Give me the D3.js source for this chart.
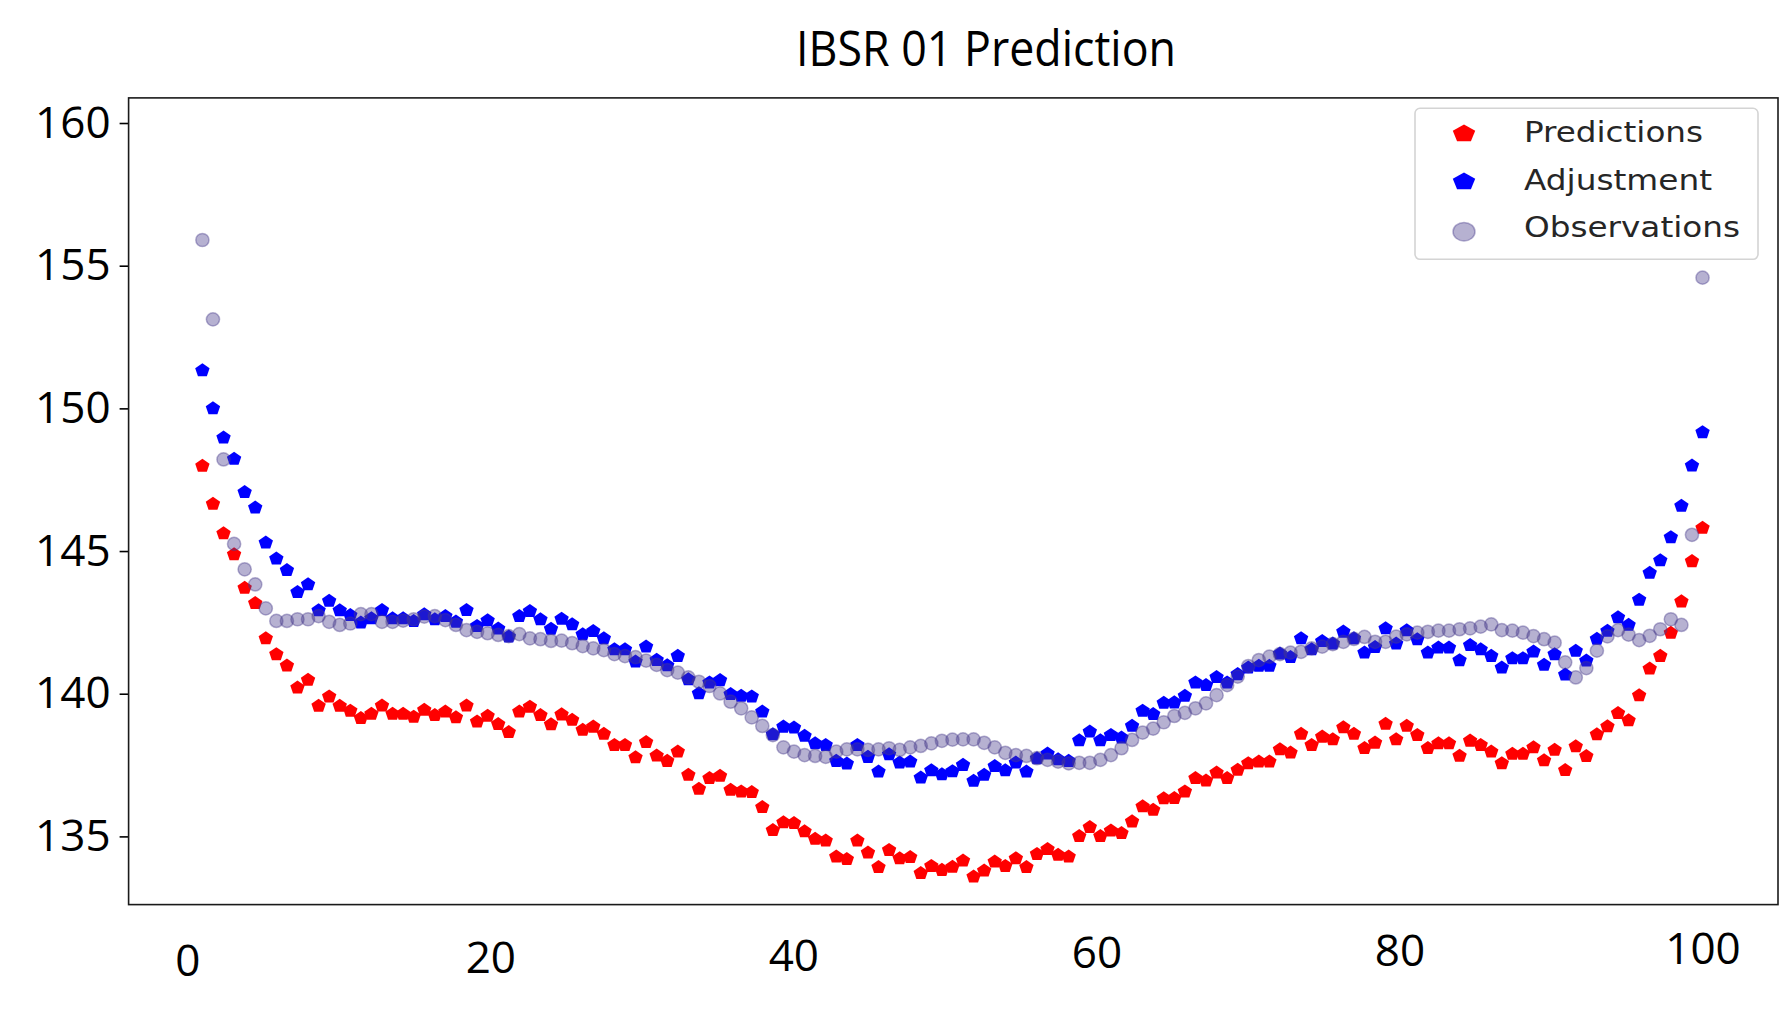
<!DOCTYPE html>
<html><head><meta charset="utf-8">
<script src="https://cdn.jsdelivr.net/npm/d3@7"></script>
<style>body{margin:0;background:#fff}svg{display:block}</style>
</head><body>
<svg id="chart" width="1784" height="1023"></svg>
<script>
const chartTitle = "IBSR 01 Prediction";
const seriesNames = ["Predictions", "Adjustment", "Observations"];
const xTicks = [0, 20, 40, 60, 80, 100];
const yTicks = [135, 140, 145, 150, 155, 160];
const xFirst = 1, xLast = 100;

const predictions = [
147.98,146.65,145.62,144.88,143.71,143.17,141.94,141.38,140.98,140.21,
140.48,139.57,139.90,139.57,139.40,139.14,139.29,139.58,139.29,139.29,
139.19,139.43,139.25,139.37,139.17,139.58,139.02,139.22,138.93,138.65,
139.37,139.54,139.25,138.92,139.27,139.08,138.73,138.84,138.59,138.20,
138.20,137.77,138.30,137.83,137.64,137.97,137.15,136.66,137.04,137.12,
136.63,136.57,136.55,136.02,135.22,135.49,135.46,135.17,134.91,134.85,
134.29,134.20,134.85,134.43,133.92,134.52,134.23,134.27,133.71,133.96,
133.82,133.93,134.15,133.59,133.80,134.11,133.96,134.23,133.92,134.38,
134.55,134.35,134.29,135.01,135.32,135.01,135.20,135.11,135.52,136.05,
135.93,136.33,136.34,136.57,137.04,136.95,137.23,137.04,137.33,137.56,
137.62,137.62,138.05,137.93,138.59,138.20,138.49,138.40,138.82,138.59,
138.09,138.28,138.94,138.40,138.87,138.55,138.09,138.26,138.26,137.82,
138.35,138.20,137.97,137.56,137.89,137.89,138.12,137.66,138.03,137.32,
138.15,137.81,138.57,138.85,139.32,139.06,139.94,140.88,141.32,142.13,
143.23,144.64,145.81
];

const adjustment = [
151.33,150.00,148.97,148.23,147.06,146.52,145.29,144.73,144.33,143.56,
143.83,142.92,143.25,142.92,142.75,142.49,142.64,142.93,142.64,142.64,
142.54,142.78,142.60,142.72,142.52,142.93,142.37,142.57,142.28,142.00,
142.72,142.89,142.60,142.27,142.62,142.43,142.08,142.19,141.94,141.55,
141.55,141.12,141.65,141.18,140.99,141.32,140.50,140.01,140.39,140.47,
139.98,139.92,139.90,139.37,138.57,138.84,138.81,138.52,138.26,138.20,
137.64,137.55,138.20,137.78,137.27,137.87,137.58,137.62,137.06,137.31,
137.17,137.28,137.50,136.94,137.15,137.46,137.31,137.58,137.27,137.73,
137.90,137.70,137.64,138.36,138.67,138.36,138.55,138.46,138.87,139.40,
139.28,139.68,139.69,139.92,140.39,140.30,140.58,140.39,140.68,140.91,
140.97,140.97,141.40,141.28,141.94,141.55,141.84,141.75,142.17,141.94,
141.44,141.63,142.29,141.75,142.22,141.90,141.44,141.61,141.61,141.17,
141.70,141.55,141.32,140.91,141.24,141.24,141.47,141.01,141.38,140.67,
141.50,141.16,141.92,142.20,142.67,142.41,143.29,144.23,144.67,145.48,
146.58,147.99,149.16
];

const observations = [
155.90,153.12,148.21,145.25,144.36,143.83,142.99,142.55,142.55,142.61,
142.61,142.72,142.52,142.41,142.46,142.79,142.79,142.52,142.52,142.56,
142.61,142.70,142.72,142.58,142.41,142.23,142.17,142.12,142.06,142.02,
142.09,141.94,141.91,141.85,141.86,141.77,141.67,141.59,141.53,141.39,
141.32,141.28,141.16,141.01,140.83,140.74,140.57,140.42,140.27,140.01,
139.72,139.49,139.17,138.87,138.55,138.12,137.97,137.85,137.82,137.79,
137.97,138.05,138.05,138.03,138.05,138.09,138.03,138.12,138.17,138.26,
138.35,138.39,138.40,138.40,138.28,138.12,137.93,137.85,137.82,137.74,
137.68,137.62,137.56,137.58,137.58,137.68,137.85,138.09,138.38,138.64,
138.78,139.00,139.22,139.33,139.49,139.66,139.95,140.30,140.60,140.97,
141.18,141.30,141.39,141.44,141.47,141.59,141.65,141.74,141.82,141.92,
141.99,141.82,141.82,142.00,142.08,142.14,142.17,142.21,142.21,142.26,
142.29,142.35,142.43,142.23,142.21,142.14,142.02,141.91,141.79,141.10,
140.57,140.90,141.51,142.01,142.23,142.07,141.88,142.03,142.26,142.61,
142.41,145.57,154.58
];

const svg = d3.select("#chart");
const plot = {left: 128.6, right: 1778, top: 97.9, bottom: 904.6};

const x = d3.scaleLinear().domain([-3.87, 104.98]).range([plot.left, plot.right]);
const y = d3.scaleLinear().domain([132.61, 160.88]).range([plot.bottom, plot.top]);
const xi = d3.scaleLinear().domain([0, predictions.length - 1]).range([x(xFirst), x(xLast)]);

svg.append("rect").attr("width", 1784).attr("height", 1023).attr("fill", "#fff");

// Title
svg.append("text")
  .attr("x", 986).attr("y", 65.7)
  .attr("text-anchor", "middle")
  .attr("font-family", "'Open Sans', sans-serif")
  .attr("font-size", 50)
  .attr("textLength", 380).attr("lengthAdjust", "spacingAndGlyphs")
  .attr("fill", "#000")
  .text(chartTitle);

// Y axis
const yAxis = svg.append("g")
  .attr("transform", `translate(${plot.left},0)`)
  .call(d3.axisLeft(y).tickValues(yTicks).tickSize(9).tickPadding(9).tickFormat(d3.format("d")));
yAxis.select(".domain").remove();
yAxis.selectAll(".tick line").attr("stroke", "#000").attr("stroke-width", 1.6);
yAxis.selectAll(".tick text")
  .attr("font-family", "'Open Sans', sans-serif")
  .attr("font-size", 44).attr("fill", "#000");

// X axis (labels only, slightly tilted row as in the original)
const xAxis = svg.append("g")
  .attr("transform", `translate(0,${plot.bottom})`)
  .call(d3.axisBottom(x).tickValues(xTicks).tickSize(0).tickFormat(d3.format("d")));
xAxis.select(".domain").remove();
xAxis.selectAll(".tick text")
  .attr("font-family", "'Open Sans', sans-serif")
  .attr("font-size", 44).attr("fill", "#000")
  .attr("dy", null)
  .attr("y", d => (960 - (x(d) - 184) * 12 / 1519) - plot.bottom + 15.7);

// Frame
svg.append("rect")
  .attr("x", plot.left).attr("y", plot.top)
  .attr("width", plot.right - plot.left).attr("height", plot.bottom - plot.top)
  .attr("fill", "none").attr("stroke", "#1a1a1a").attr("stroke-width", 1.6);

function pentagon(r) {
  const pts = d3.range(5).map(k => {
    const a = -Math.PI / 2 + k * 2 * Math.PI / 5;
    return [r * Math.cos(a), r * Math.sin(a)];
  });
  return "M" + pts.map(p => p[0].toFixed(3) + "," + p[1].toFixed(3)).join("L") + "Z";
}

const marks = svg.append("g");
marks.append("g").selectAll("path").data(predictions).join("path")
  .attr("d", pentagon(7.2))
  .attr("transform", (d, i) => `translate(${xi(i)},${y(d)}) scale(1.05,1)`)
  .attr("fill", "#ff0000");

marks.append("g").selectAll("path").data(adjustment).join("path")
  .attr("d", pentagon(7.2))
  .attr("transform", (d, i) => `translate(${xi(i)},${y(d)}) scale(1.05,1)`)
  .attr("fill", "#0000ff");

marks.append("g").selectAll("circle").data(observations).join("circle")
  .attr("cx", (d, i) => xi(i)).attr("cy", d => y(d)).attr("r", 6.6)
  .attr("fill", "darkslateblue").attr("fill-opacity", 0.4)
  .attr("stroke", "darkslateblue").attr("stroke-opacity", 0.4).attr("stroke-width", 1.5);

// Legend
const lg = svg.append("g");
lg.append("rect")
  .attr("x", 1415).attr("y", 108.3).attr("width", 343).attr("height", 151).attr("rx", 5)
  .attr("fill", "#fff").attr("fill-opacity", 0.85)
  .attr("stroke", "#d4d4d4").attr("stroke-width", 1.6);
const legendRows = [
  {name: seriesNames[0], color: "#ff0000", shape: "pent", cy: 132.7, base: 141.7, len: 179},
  {name: seriesNames[1], color: "#0000ff", shape: "pent", cy: 180.7, base: 189.5, len: 188},
  {name: seriesNames[2], color: "darkslateblue", shape: "circle", cy: 231.7, base: 236.9, len: 216}
];
legendRows.forEach(r => {
  if (r.shape === "pent") {
    lg.append("path").attr("d", pentagon(9.2))
      .attr("transform", `translate(1464,${r.cy + 1}) scale(1.28,1)`)
      .attr("fill", r.color);
  } else {
    lg.append("ellipse").attr("cx", 1464).attr("cy", r.cy).attr("rx", 11).attr("ry", 9.2)
      .attr("fill", r.color).attr("fill-opacity", 0.4)
      .attr("stroke", r.color).attr("stroke-opacity", 0.4).attr("stroke-width", 1.5);
  }
  lg.append("text")
    .attr("x", 1524).attr("y", r.base)
    .attr("font-family", "'DejaVu Sans', sans-serif")
    .attr("font-size", 28.5)
    .attr("textLength", r.len).attr("lengthAdjust", "spacingAndGlyphs")
    .attr("fill", "#262626")
    .text(r.name);
});
</script>
</body></html>
